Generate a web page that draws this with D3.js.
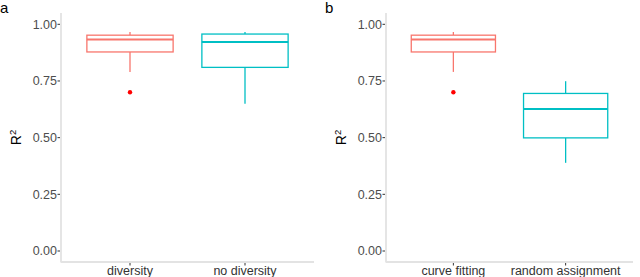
<!DOCTYPE html>
<meta charset="utf-8">
<style>
body { margin: 0; background: #fff; }
text { font-family: "Liberation Sans", Arial, sans-serif; }
.tick-label { fill: #4d4d4d; font-size: 12.5px; }
.cat-label { fill: #333; font-size: 12.5px; }
.panel-tag { fill: #000; font-size: 15px; }
.ytitle { fill: #000; font-size: 14px; }
</style>
<svg width="640" height="277"></svg>
<script src="https://cdn.jsdelivr.net/npm/d3@7"></script>
<script>

// panel a
const catsA = ["diversity", "no diversity"];
const statsA = [
  {lo: 0.79, q1: 0.878, med: 0.933, q3: 0.952, hi: 0.966, out: [0.70]},
  {lo: 0.649, q1: 0.81, med: 0.922, q3: 0.957, hi: 0.966, out: []}
];
// panel b
const catsB = ["curve fitting", "random assignment"];
const statsB = [
  {lo: 0.79, q1: 0.878, med: 0.933, q3: 0.952, hi: 0.966, out: [0.70]},
  {lo: 0.389, q1: 0.499, med: 0.626, q3: 0.695, hi: 0.749, out: []}
];
const yTicks = [0, 0.25, 0.5, 0.75, 1.0];
const colours = ["#F8766D", "#00BFC4"];

const svg = d3.select("svg");

function panel(tag, cats, stats, left, right) {
  const top = 13, bottom = 262;
  const y = d3.scaleLinear().domain([0, 1]).range([251, 24.3]);
  // discrete axis with ggplot's 0.6 expansion on each side
  const x = d3.scaleLinear().domain([0.4, cats.length + 0.6]).range([left, right]);
  const g = svg.append("g");

  // axis lines
  g.append("line").attr("x1", left).attr("x2", left).attr("y1", top).attr("y2", bottom + 0.5)
    .attr("stroke", "#e3e3e3").attr("stroke-width", 1.8);
  g.append("line").attr("x1", left).attr("x2", right).attr("y1", bottom).attr("y2", bottom)
    .attr("stroke", "#e3e3e3").attr("stroke-width", 1.8);

  // y ticks
  yTicks.forEach(function(t) {
    g.append("line").attr("x1", left - 3.5).attr("x2", left - 1).attr("y1", y(t)).attr("y2", y(t))
      .attr("stroke", "#333").attr("stroke-width", 1);
    g.append("text").attr("class", "tick-label").attr("x", left - 4).attr("y", y(t) + 4.3)
      .attr("text-anchor", "end").text(d3.format(".2f")(t));
  });

  // x ticks + labels
  cats.forEach(function(c, i) {
    const cx = x(i + 1);
    g.append("line").attr("x1", cx).attr("x2", cx).attr("y1", bottom + 1).attr("y2", bottom + 3.5)
      .attr("stroke", "#333").attr("stroke-width", 1);
    g.append("text").attr("class", "cat-label").attr("x", cx).attr("y", bottom + 13)
      .attr("text-anchor", "middle").text(c);
  });

  // boxes
  const half = (x(1.375) - x(1));
  stats.forEach(function(s, i) {
    const cx = x(i + 1), col = colours[i];
    const b = g.append("g").attr("stroke", col).attr("fill", "none").attr("stroke-width", 1.3);
    b.append("line").attr("x1", cx).attr("x2", cx).attr("y1", y(s.hi)).attr("y2", y(s.q3));
    b.append("line").attr("x1", cx).attr("x2", cx).attr("y1", y(s.q1)).attr("y2", y(s.lo));
    b.append("rect").attr("x", cx - half).attr("width", 2 * half)
      .attr("y", y(s.q3)).attr("height", y(s.q1) - y(s.q3)).attr("fill", "#fff");
    b.append("line").attr("x1", cx - half).attr("x2", cx + half)
      .attr("y1", y(s.med)).attr("y2", y(s.med)).attr("stroke-width", 2);
    s.out.forEach(function(o) {
      g.append("circle").attr("cx", cx).attr("cy", y(o)).attr("r", 2.2).attr("fill", "#f00");
    });
  });

  // y title
  const yt = g.append("text").attr("class", "ytitle")
    .attr("transform", "translate(" + (left - 40) + "," + ((top + bottom) / 2) + ") rotate(-90)")
    .attr("text-anchor", "middle");
  yt.append("tspan").text("R");
  yt.append("tspan").attr("font-size", 9.5).attr("dy", -5.5).text("2");

  // panel tag
  g.append("text").attr("class", "panel-tag").attr("x", left - 61).attr("y", 12.5).text(tag);
}

panel("a", catsA, statsA, 61, 314);
panel("b", catsB, statsB, 386, 633);
</script>
